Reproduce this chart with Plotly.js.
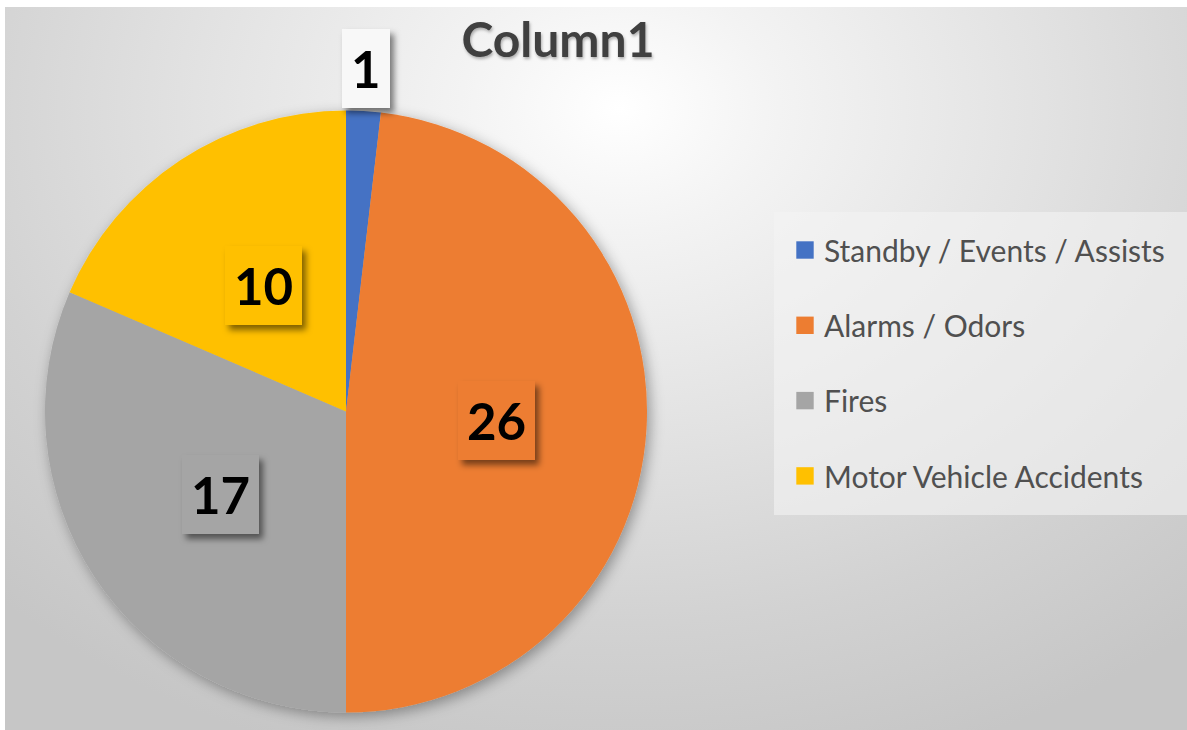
<!DOCTYPE html>
<html>
<head>
<meta charset="utf-8">
<script src="https://cdn.plot.ly/plotly-3.0.1.min.js"></script>
<style>
  html, body { margin: 0; padding: 0; background: #ffffff; }
  #bg {
    position: absolute; left: 5px; top: 7px; width: 1182px; height: 723px;
    background: radial-gradient(ellipse 75% 95% at 52% 14%, #ffffff 0%, #f3f3f3 18%, #e2e2e2 48%, #d2d2d2 75%, #c6c6c6 100%);
  }
  #chart { position: absolute; left: 0; top: 0; width: 1187px; height: 730px; }
</style>
</head>
<body>
<div id="bg"></div>
<div id="chart"></div>
<script>
// ---- data ----
const categories = ['Standby / Events / Assists', 'Alarms / Odors', 'Fires', 'Motor Vehicle Accidents'];
const counts = [1, 26, 17, 10];
const sliceColors = ['#4472C4', '#ED7D31', '#A5A5A5', '#FFC000'];
const chartTitle = 'Column1';

// ---- layout constants ----
const W = 1187, H = 730;
const CX = 346, CY = 411.5, R = 301;
const FONT = 'Lato, "Open Sans", "DejaVu Sans", sans-serif';

const domainX = [(CX - R) / W, (CX + R) / W];
const domainY = [1 - (CY + R) / H, 1 - (CY - R) / H];

// data labels placed from the slice angles
const total = counts.reduce((a, b) => a + b, 0);
let cum = 0;
const annotations = counts.map((v, i) => {
  const mid = (cum + v / 2) / total * 2 * Math.PI;
  cum += v;
  const outside = v / total < 0.05;
  const f = outside ? 1.14 : 0.5;
  const px = CX + f * R * Math.sin(mid);
  const py = CY - f * R * Math.cos(mid);
  return {
    x: px / W, y: 1 - py / H, xref: 'paper', yref: 'paper',
    xanchor: 'center', yanchor: 'middle', showarrow: false,
    text: '<b>' + v + '</b>',
    font: { family: FONT, size: 51, color: '#000000' },
    bgcolor: outside ? '#f8f8f8' : sliceColors[i],
    borderpad: 9, borderwidth: 0
  };
});

const trace = {
  type: 'pie',
  labels: categories,
  values: counts,
  sort: false,
  direction: 'clockwise',
  rotation: 0,
  textinfo: 'none',
  hoverinfo: 'label+value',
  marker: { colors: sliceColors, line: { width: 0 } },
  domain: { x: domainX, y: domainY }
};

const layout = {
  width: W, height: H,
  margin: { l: 0, r: 0, t: 0, b: 0 },
  paper_bgcolor: 'rgba(0,0,0,0)',
  plot_bgcolor: 'rgba(0,0,0,0)',
  title: {
    text: '<b>' + chartTitle + '</b>',
    x: 558 / W, xanchor: 'center', xref: 'container',
    y: 1 - 40 / H, yanchor: 'middle', yref: 'container',
    font: { family: FONT, size: 48, color: '#404040' }
  },
  showlegend: true,
  legend: {
    x: 774 / W, xanchor: 'left', y: 1 - 212 / H, yanchor: 'top',
    bgcolor: 'rgba(244,244,244,0.6)', borderwidth: 0,
    font: { family: FONT, size: 30, color: '#505050' },
    traceorder: 'normal'
  },
  annotations: annotations
};

Plotly.newPlot('chart', [trace], layout, { displayModeBar: false, staticPlot: true }).then(gd => {
  const NS = 'http://www.w3.org/2000/svg';
  const svg = gd.querySelector('svg.main-svg');
  let defs = svg.querySelector('defs');
  if (!defs) { defs = document.createElementNS(NS, 'defs'); svg.insertBefore(defs, svg.firstChild); }
  function addShadow(id, dx, dy, sd, op) {
    const f = document.createElementNS(NS, 'filter');
    f.setAttribute('id', id);
    f.setAttribute('x', '-30%'); f.setAttribute('y', '-30%');
    f.setAttribute('width', '160%'); f.setAttribute('height', '160%');
    const d = document.createElementNS(NS, 'feDropShadow');
    d.setAttribute('dx', dx); d.setAttribute('dy', dy);
    d.setAttribute('stdDeviation', sd);
    d.setAttribute('flood-color', '#000'); d.setAttribute('flood-opacity', op);
    f.appendChild(d); defs.appendChild(f);
  }
  addShadow('pieShadow', 3, 4, 7, 0.35);
  addShadow('boxShadow', 4, 5, 3, 0.5);
  addShadow('titleShadow', 1, 2, 1.5, 0.3);

  gd.querySelectorAll('.pielayer .trace').forEach(t => t.setAttribute('filter', 'url(#pieShadow)'));
  gd.querySelectorAll('.annotation rect.bg').forEach(r => r.setAttribute('filter', 'url(#boxShadow)'));
  gd.querySelectorAll('.gtitle').forEach(t => t.setAttribute('filter', 'url(#titleShadow)'));

  // spread legend entries like the reference
  const leg = gd.querySelector('g.legend');
  if (leg) {
    const items = leg.querySelectorAll('g.traces');
    const gap = 75.3, first = 38, dx = 10;
    items.forEach((it, i) => {
      it.setAttribute('transform', 'translate(' + dx + ',' + (first + i * gap) + ')');
      const p = it.querySelector('.legendpoints path');
      if (p) p.setAttribute('transform', 'translate(21,0) scale(1.45)');
    });
    const bg = leg.querySelector('rect.bg');
    const bw = W - 774, bh = 303;
    if (bg) { bg.setAttribute('width', bw); bg.setAttribute('height', bh); }
    const sb = leg.querySelector('.scrollbox');
    if (sb) sb.removeAttribute('clip-path');
    document.querySelectorAll('clipPath[id^="legend"] rect').forEach(r => {
      r.setAttribute('width', bw); r.setAttribute('height', bh);
    });
  }
});
</script>
</body>
</html>
